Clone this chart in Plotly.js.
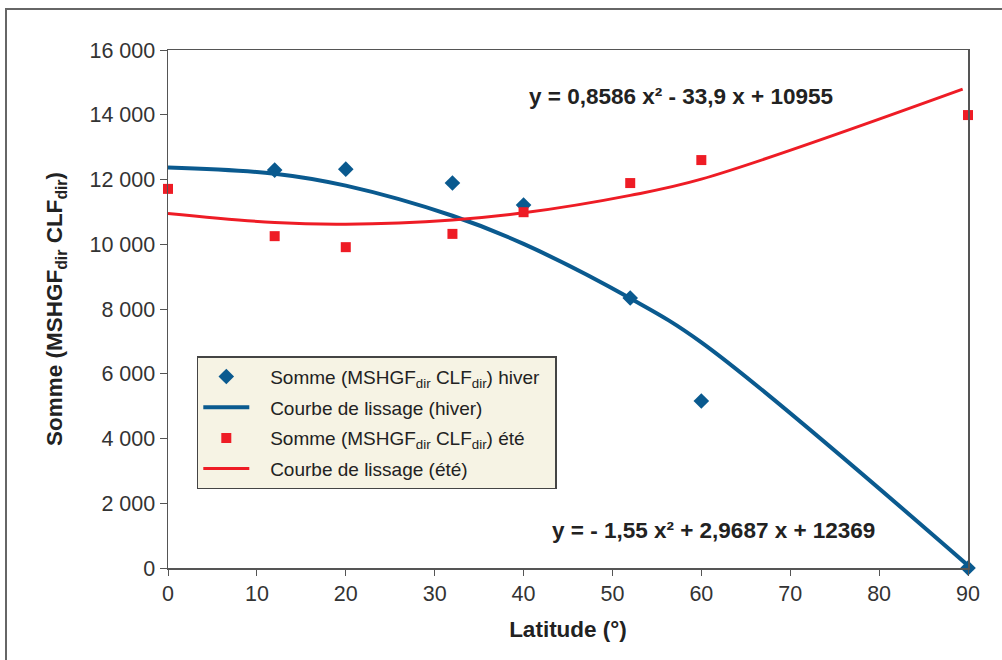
<!DOCTYPE html>
<html>
<head>
<meta charset="utf-8">
<script src="https://cdn.plot.ly/plotly-3.0.1.min.js"></script>
<style>
html,body{margin:0;padding:0;background:#fff;}
#frame{position:absolute;left:5px;top:8px;width:1100px;height:700px;border-left:2px solid #666;border-top:2px solid #666;box-sizing:border-box;pointer-events:none;}
#chart{width:1002px;height:660px;}
</style>
</head>
<body>
<div id="chart"></div>
<div id="frame"></div>
<script>
// Data
const latHiver = [12, 20, 32, 40, 52, 60, 90];
const sommeHiver = [12290, 12320, 11890, 11210, 8340, 5160, 0];
const latEte = [0, 12, 20, 32, 40, 52, 60, 90];
const sommeEte = [11710, 10250, 9910, 10320, 10990, 11890, 12600, 13990];
// Smoothed (trend) curves
const courbeHiverX = [0, 12, 20, 32, 40, 52, 60, 90];
const courbeHiverY = [12370, 12180, 11810, 10880, 10010, 8330, 6970, 80];
const courbeEteX = [0, 12, 20, 32, 40, 52, 60, 89.4];
const courbeEteY = [10950, 10670, 10620, 10750, 10970, 11510, 12010, 14790];
const yTicks = [0, 2000, 4000, 6000, 8000, 10000, 12000, 14000, 16000];
const yTickText = ['0', '2 000', '4 000', '6 000', '8 000', '10 000', '12 000', '14 000', '16 000'];
const xTicks = [0, 10, 20, 30, 40, 50, 60, 70, 80, 90];

const BLUE = '#0a5a8f';
const RED = '#ee1c25';
const FONT = 'Liberation Sans, Arial, sans-serif';
const PAD = '\u00a0\u00a0\u00a0';
const TAIL = '\u00a0\u00a0';

const traces = [
  {x: latHiver, y: sommeHiver, mode: 'markers', type: 'scatter', cliponaxis: false, legendgroup: 'a',
   name: PAD + 'Somme (MSHGF<sub>dir</sub> CLF<sub>dir</sub>) hiver' + TAIL,
   marker: {symbol: 'diamond', size: 12, color: BLUE}},
  {x: courbeHiverX, y: courbeHiverY, mode: 'lines', type: 'scatter', cliponaxis: false, legendgroup: 'b',
   name: PAD + 'Courbe de lissage (hiver)',
   line: {color: BLUE, width: 4, shape: 'spline', smoothing: 1}},
  {x: latEte, y: sommeEte, mode: 'markers', type: 'scatter', cliponaxis: false, legendgroup: 'c',
   name: PAD + 'Somme (MSHGF<sub>dir</sub> CLF<sub>dir</sub>) été',
   marker: {symbol: 'square', size: 10, color: RED}},
  {x: courbeEteX, y: courbeEteY, mode: 'lines', type: 'scatter', cliponaxis: false, legendgroup: 'd',
   name: PAD + 'Courbe de lissage (été)',
   line: {color: RED, width: 3, shape: 'spline', smoothing: 1}}
];

const layout = {
  width: 1002, height: 660,
  margin: {l: 168, r: 34, t: 50, b: 92},
  paper_bgcolor: '#fff', plot_bgcolor: '#fff',
  font: {family: FONT, size: 21, color: '#333'},
  showlegend: true,
  legend: {x: 0.036, y: 0.409, xanchor: 'left', yanchor: 'top',
    bgcolor: '#f6f3e4', bordercolor: '#444', borderwidth: 1.5,
    font: {family: FONT, size: 19, color: '#222'},
    tracegroupgap: 3, itemwidth: 46},
  xaxis: {range: [0, 90], tickvals: xTicks, ticks: 'outside', ticklen: 6, tickcolor: '#555',
    showline: true, linecolor: '#555', linewidth: 1.5, mirror: true, showgrid: false, zeroline: false,
    tickfont: {family: FONT, size: 21.5, color: '#333'},
    title: {text: 'Latitude (°)', font: {family: FONT, size: 22.5, color: '#222', weight: 'bold'}, standoff: 16}},
  yaxis: {range: [0, 16000], tickvals: yTicks, ticktext: yTickText, ticks: 'outside', ticklen: 7, tickcolor: '#555',
    showline: true, linecolor: '#555', linewidth: 1.5, mirror: true, showgrid: false, zeroline: false,
    tickfont: {family: FONT, size: 21.5, color: '#333'},
    title: {text: '<b>Somme (MSHGF<sub>dir</sub> CLF<sub>dir</sub>)</b>', font: {family: FONT, size: 22.5, color: '#222'}, standoff: 20}},
  annotations: [
    {xref: 'paper', yref: 'paper', x: (527 - 168) / 800, y: (568 - 96) / 518, xanchor: 'left', yanchor: 'middle',
     showarrow: false, text: '<b>y = 0,8586 x² - 33,9 x + 10955</b>', font: {family: FONT, size: 22.5, color: '#222'}},
    {xref: 'paper', yref: 'paper', x: (550 - 168) / 800, y: (568 - 530) / 518, xanchor: 'left', yanchor: 'middle',
     showarrow: false, text: '<b>y = - 1,55 x² + 2,9687 x + 12369</b>', font: {family: FONT, size: 22.5, color: '#222'}}
  ]
};

Plotly.newPlot('chart', traces, layout, {displayModeBar: false, staticPlot: true});
</script>
</body>
</html>
